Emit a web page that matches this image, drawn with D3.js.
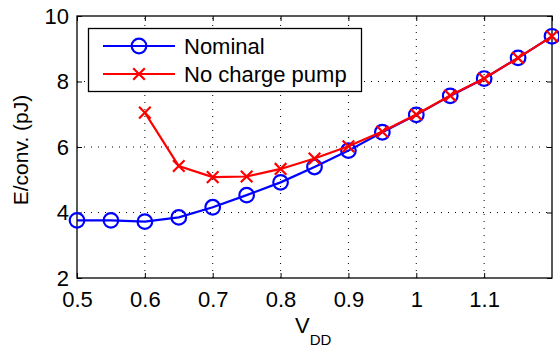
<!DOCTYPE html>
<html><head><meta charset="utf-8">
<script src="https://cdn.jsdelivr.net/npm/d3@7"></script>
<style>body{margin:0;background:#fff}svg{display:block}text{font-family:"Liberation Sans",Arial,sans-serif}</style>
</head><body>
<script>
const vdd = [0.5,0.55,0.6,0.65,0.7,0.75,0.8,0.85,0.9,0.95,1.0,1.05,1.1,1.15,1.2];
const nominal = [3.76,3.76,3.72,3.85,4.16,4.53,4.92,5.39,5.89,6.45,6.98,7.56,8.09,8.72,9.38];
const vddNcp = [0.6,0.65,0.7,0.75,0.8,0.85,0.9,0.95,1.0,1.05,1.1,1.15,1.2];
const noChargePump = [7.05,5.42,5.08,5.1,5.33,5.65,6.02,6.47,6.99,7.57,8.09,8.72,9.38];
const xTicks = [0.5,0.6,0.7,0.8,0.9,1.0,1.1];
const xGrid = [0.5,0.6,0.7,0.8,0.9,1.0,1.1,1.2];
const yTicks = [2,4,6,8,10];
const seriesNames = ["Nominal","No charge pump"];

const W=559,H=350;
const m={l:77,r:559-552,t:16,b:350-278};
const svg=d3.select("body").append("svg").attr("width",W).attr("height",H);
const x=d3.scaleLinear().domain([0.5,1.2]).range([m.l,W-m.r]);
const y=d3.scaleLinear().domain([2,10]).range([H-m.b,m.t]);
const g=svg.append("g");
// grid
g.selectAll(".gx").data(xGrid.slice(1,-1)).join("line")
 .attr("x1",d=>x(d)).attr("x2",d=>x(d)).attr("y1",y(2)).attr("y2",y(10))
 .attr("stroke","#000").attr("stroke-width",1).attr("stroke-dasharray","1,6");
g.selectAll(".gy").data(yTicks.slice(1,-1)).join("line")
 .attr("y1",d=>y(d)).attr("y2",d=>y(d)).attr("x1",x(0.5)).attr("x2",x(1.2))
 .attr("stroke","#000").attr("stroke-width",1).attr("stroke-dasharray","1,6");
// axes
const fs=22;
const ax=d3.axisBottom(x).tickValues(xTicks).tickSize(-5).tickPadding(13).tickFormat(d=>d3.format("")(+d.toFixed(1)));
const gx=svg.append("g").attr("transform",`translate(0,${y(2)})`).call(ax);
const ay=d3.axisLeft(y).tickValues(yTicks).tickSize(-5).tickPadding(8);
const gy=svg.append("g").attr("transform",`translate(${x(0.5)},0)`).call(ay);
const axT=d3.axisTop(x).tickValues(xGrid).tickSize(-5).tickFormat("");
svg.append("g").attr("transform",`translate(0,${y(10)})`).call(axT);
const ayR=d3.axisRight(y).tickValues(yTicks).tickSize(-5).tickFormat("");
svg.append("g").attr("transform",`translate(${x(1.2)},0)`).call(ayR);
svg.selectAll(".domain").remove();
svg.selectAll(".tick line").attr("stroke","#000").attr("stroke-width",1);
svg.selectAll(".tick text").attr("font-size",fs).attr("fill","#000").attr("font-family","Liberation Sans, Arial, sans-serif");
svg.append("rect").attr("x",x(0.5)).attr("y",y(10)).attr("width",x(1.2)-x(0.5)).attr("height",y(2)-y(10))
 .attr("fill","none").attr("stroke","#000").attr("stroke-width",1.3);

const line=d3.line().x(d=>x(d[0])).y(d=>y(d[1]));
const nomData=vdd.map((v,i)=>[v,nominal[i]]);
const ncpData=vddNcp.map((v,i)=>[v,noChargePump[i]]);
const blue="#0000ff",red="#ff0000";
function circ(sel,cx,cy){sel.append("circle").attr("cx",cx).attr("cy",cy).attr("r",7.3).attr("fill","none").attr("stroke",blue).attr("stroke-width",2.2);}
function cross(sel,cx,cy){const s=5.8;sel.append("path").attr("d",`M${cx-s},${cy-s}L${cx+s},${cy+s}M${cx-s},${cy+s}L${cx+s},${cy-s}`).attr("stroke",red).attr("stroke-width",2.2).attr("fill","none");}
const pg=svg.append("g");
pg.append("path").datum(nomData).attr("d",line).attr("fill","none").attr("stroke",blue).attr("stroke-width",2.2);
nomData.forEach(d=>circ(pg,x(d[0]),y(d[1])));
pg.append("path").datum(ncpData).attr("d",line).attr("fill","none").attr("stroke",red).attr("stroke-width",2.2);
ncpData.forEach(d=>cross(pg,x(d[0]),y(d[1])));

// legend
const lg=svg.append("g");
lg.append("rect").attr("x",88.5).attr("y",28.5).attr("width",273).attr("height",63).attr("fill","#fff").attr("stroke","#000").attr("stroke-width",1.3);
[[46,blue],[74,red]].forEach((r,i)=>{
 lg.append("line").attr("x1",103).attr("x2",175).attr("y1",r[0]).attr("y2",r[0]).attr("stroke",r[1]).attr("stroke-width",2.2);
 if(i===0)circ(lg,139,r[0]);else cross(lg,139,r[0]);
 lg.append("text").attr("x",184).attr("y",r[0]+8).attr("font-size",22).text(seriesNames[i]);
});
// labels
svg.append("text").attr("transform","translate(28,150) rotate(-90)").attr("text-anchor","middle").attr("font-size",21).text("E/conv. (pJ)");
const xl=svg.append("text").attr("x",295).attr("y",333).attr("font-size",22);
xl.append("tspan").text("V");
xl.append("tspan").attr("dy",12).attr("font-size",15).text("DD");
</script>
</body></html>
